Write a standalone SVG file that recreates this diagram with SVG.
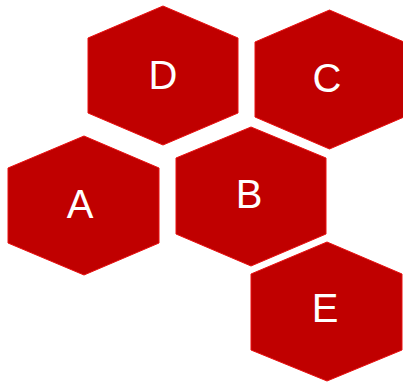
<svg xmlns="http://www.w3.org/2000/svg" width="403" height="383" viewBox="0 0 403 383">
<style>
.hex{fill:#c00000;stroke:#e81010;stroke-width:1}
.lbl{font-family:"Liberation Sans",Arial,sans-serif;font-size:40px;fill:#ffffff;text-anchor:middle}
</style>
<rect width="403" height="383" fill="#ffffff"/>
<g id="connectors"></g>
<g id="D"><polygon class="hex" points="163,6 238,38 238,113 163,145 88,113 88,38"/><text class="lbl" x="163" y="89">D</text></g>
<g id="C"><polygon class="hex" points="329.5,10 404,42 404,117 329.5,149 255,117 255,42"/><text class="lbl" x="327" y="92">C</text></g>
<g id="A"><polygon class="hex" points="84,136 159,168 159,243 84,275 8,243 8,168"/><text class="lbl" x="80" y="218">A</text></g>
<g id="B"><polygon class="hex" points="251,127 326,158 326,234 251,266 176,234 176,158"/><text class="lbl" x="249" y="208">B</text></g>
<g id="E"><polygon class="hex" points="327,242 402,274 402,350 327,381 251,350 251,274"/><text class="lbl" x="325" y="322">E</text></g>
</svg>
